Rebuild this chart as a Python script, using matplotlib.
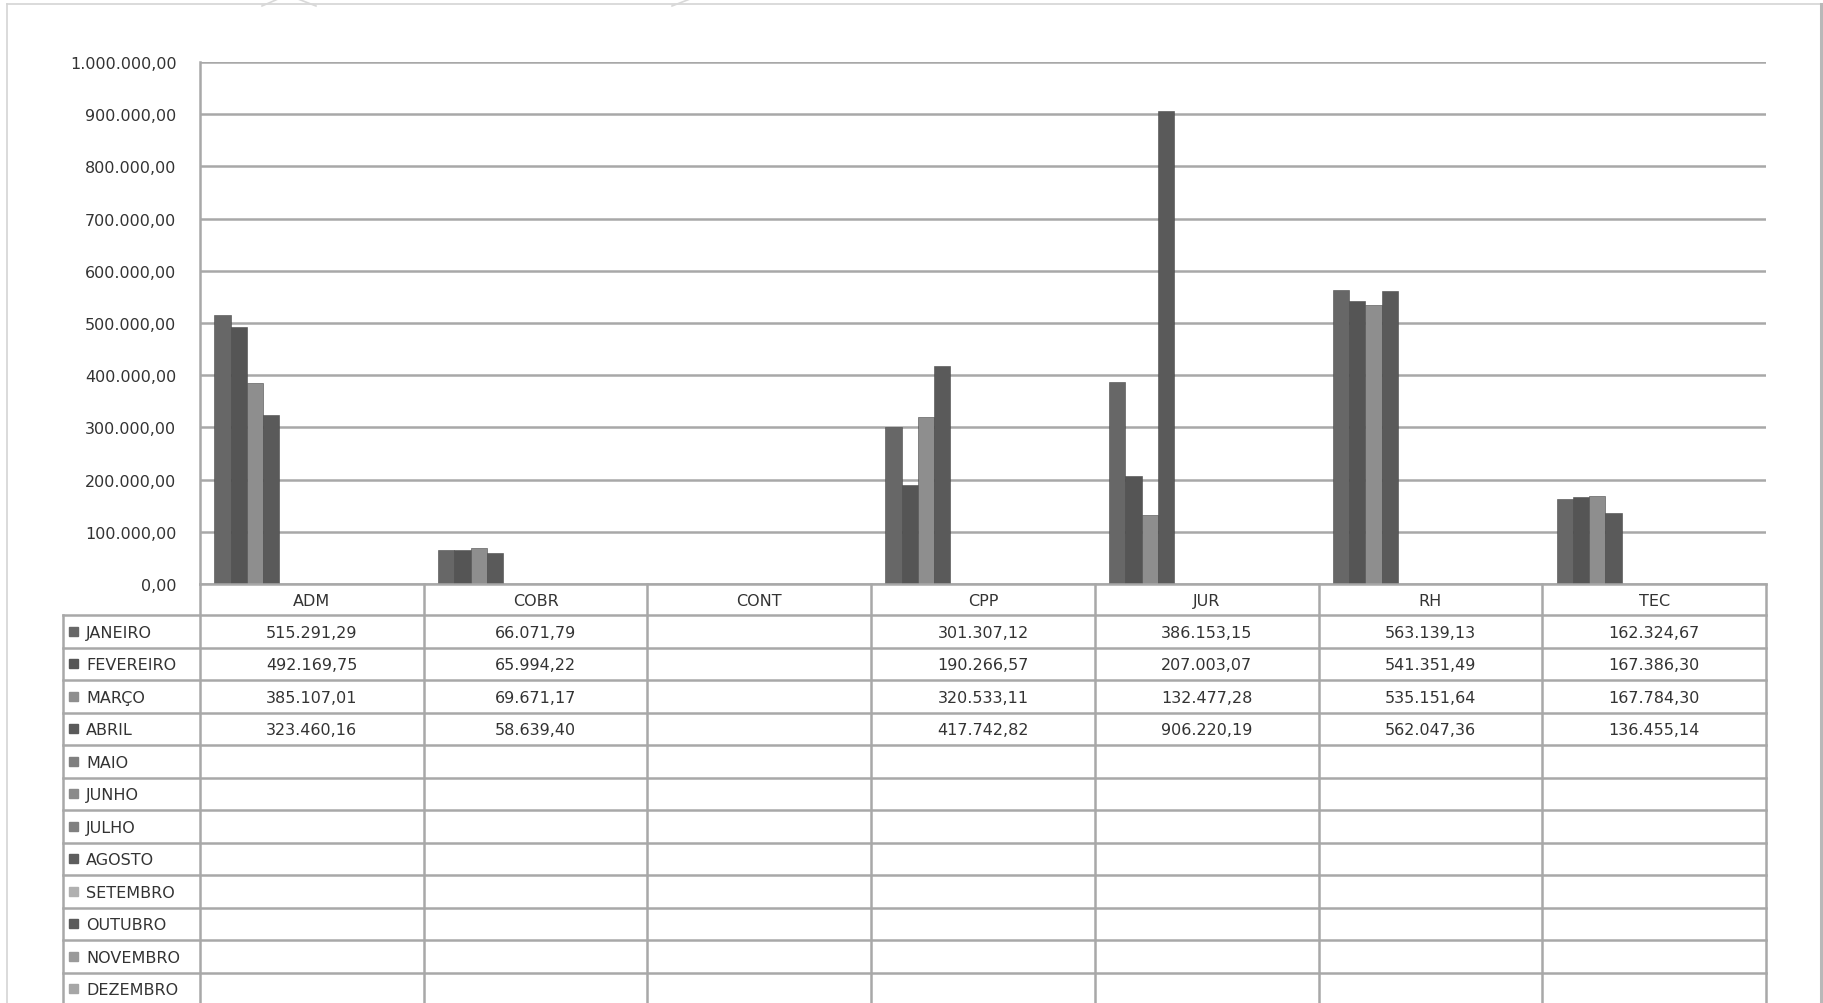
import numpy as np
import matplotlib
matplotlib.use('Agg')
import matplotlib.pyplot as plt
from matplotlib.patches import Rectangle

# dados da planilha
setores = ['ADM', 'COBR', 'CONT', 'CPP', 'JUR', 'RH', 'TEC']
meses = ['JANEIRO', 'FEVEREIRO', 'MARÇO', 'ABRIL', 'MAIO', 'JUNHO', 'JULHO',
         'AGOSTO', 'SETEMBRO', 'OUTUBRO', 'NOVEMBRO', 'DEZEMBRO']
janeiro = [515291.29, 66071.79, None, 301307.12, 386153.15, 563139.13, 162324.67]
fevereiro = [492169.75, 65994.22, None, 190266.57, 207003.07, 541351.49, 167386.30]
marco = [385107.01, 69671.17, None, 320533.11, 132477.28, 535151.64, 167784.30]
abril = [323460.16, 58639.40, None, 417742.82, 906220.19, 562047.36, 136455.14]
valores = [janeiro, fevereiro, marco, abril] + [[None] * 7 for _ in range(8)]
cores = ['#676767', '#555555', '#8e8e8e', '#5a5a5a', '#7f7f7f', '#8a8a8a',
         '#808080', '#5e5e5e', '#b0b0b0', '#5a5a5a', '#9a9a9a', '#a6a6a6']
yticks = np.arange(0, 1000001, 100000)

W, H = 1824, 1004
GRID = '#a8a8a8'
TXT = '#333333'
FONT = 'DejaVu Sans'
FS = 11.5


def fmt_br(v):
    s = '{:,.2f}'.format(v)
    return s.replace(',', 'X').replace('.', ',').replace('X', '.')


fig = plt.figure(figsize=(W / 100, H / 100), dpi=100)

# moldura externa
fig.add_artist(plt.Line2D([7 / W, 7 / W], [0, 1 - 5 / H], color='#d4d4d4', lw=1.2))
fig.add_artist(plt.Line2D([7 / W, 1821 / W], [1 - 5 / H, 1 - 5 / H], color='#d4d4d4', lw=1.2))
fig.add_artist(plt.Line2D([1821 / W, 1821 / W], [0, 1 - 5 / H], color='#b8b8b8', lw=2.2))
# pedaco da forma que aparece no topo
fig.add_artist(plt.Line2D([262 / W, 278 / W], [1 - 7 / H, 1], color='#d8d8d8', lw=1.2))
fig.add_artist(plt.Line2D([298 / W, 316 / W], [1, 1 - 7 / H], color='#d8d8d8', lw=1.2))
fig.add_artist(plt.Line2D([672 / W, 690 / W], [1 - 7 / H, 1], color='#d8d8d8', lw=1.2))

# grafico de colunas
ax = fig.add_axes([200 / W, 1 - 585 / H, 1566 / W, 522 / H])
x = np.arange(len(setores))
n = len(meses)
w = 0.0727
for i in range(n):
    ys = [v if v is not None else 0 for v in valores[i]]
    ax.bar(x + (i - (n - 1) / 2) * w, ys, w, color=cores[i], edgecolor='#4a4a4a',
           linewidth=0.4, zorder=3, label=meses[i])
ax.set_xlim(-0.5, len(setores) - 0.5)
ax.set_ylim(0, 1000000)
ax.set_yticks(yticks)
ax.set_yticklabels([fmt_br(v) for v in yticks], fontsize=FS, color=TXT, family=FONT)
ax.set_xticks([])
ax.tick_params(axis='y', length=0, pad=17)
ax.yaxis.grid(True, color=GRID, lw=1.8, zorder=0)
for s in ['top', 'right', 'bottom']:
    ax.spines[s].set_visible(False)
ax.spines['left'].set_color(GRID)
ax.spines['left'].set_linewidth(1.8)

# tabela de dados embaixo
colw = 1566 / len(setores)
lw = (200 - 63) / colw
px = 1 / colw
tax = fig.add_axes([63 / W, 0, (1766 - 63) / W, 419 / H])
tax.set_xlim(-0.5 - lw, len(setores) - 0.5)
tax.set_ylim(419, 0)
tax.axis('off')
hdr = 31
rh = 32.5
tax.plot([-0.5, len(setores) - 0.5], [0, 0], color=GRID, lw=1.8, clip_on=False)
for j in range(n + 1):
    yy = hdr + j * rh
    tax.plot([-0.5 - lw, len(setores) - 0.5], [yy, yy], color=GRID, lw=1.8, clip_on=False)
for k in range(len(setores) + 1):
    tax.plot([k - 0.5, k - 0.5], [0, 425], color=GRID, lw=1.8, clip_on=False)
tax.plot([-0.5 - lw, -0.5 - lw], [hdr, 425], color=GRID, lw=1.8, clip_on=False)

for i, s in enumerate(setores):
    tax.text(i, hdr / 2 + 1, s, ha='center', va='center', fontsize=FS, color=TXT, family=FONT)
for j in range(n):
    yc = hdr + j * rh + rh / 2
    tax.add_patch(Rectangle((-0.5 - lw + 6 * px, yc - 4.5), 9 * px, 9, color=cores[j], clip_on=False))
    tax.text(-0.5 - lw + 23 * px, yc + 1, meses[j], ha='left', va='center', fontsize=FS,
             color=TXT, family=FONT)
    for i in range(len(setores)):
        v = valores[j][i]
        if v is not None:
            tax.text(i, yc + 1, fmt_br(v), ha='center', va='center', fontsize=FS,
                     color=TXT, family=FONT)

fig.savefig('out.png', dpi=100, facecolor='white')
